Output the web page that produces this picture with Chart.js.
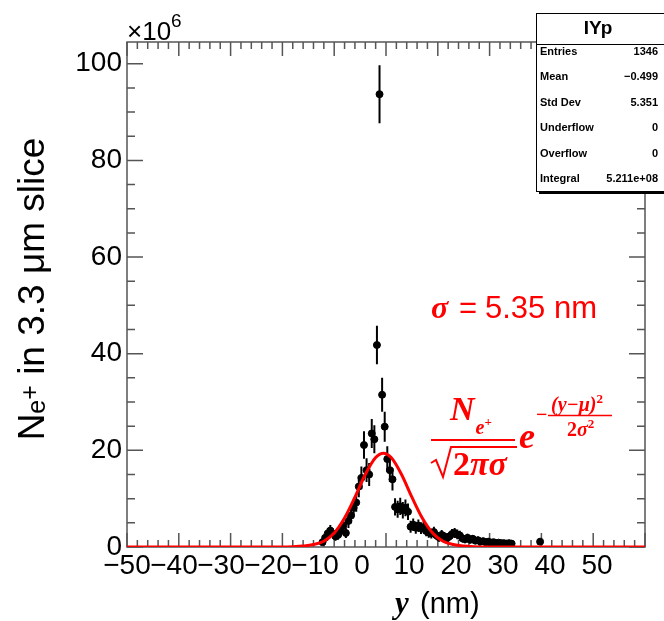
<!DOCTYPE html>
<html>
<head>
<meta charset="utf-8">
<script src="https://cdn.jsdelivr.net/npm/chart.js@4.4.1/dist/chart.umd.min.js"></script>
<style>
  html, body { margin: 0; padding: 0; background: #fff; }
</style>
</head>
<body>
<canvas id="myChart" width="664" height="621"></canvas>
<script>
// histogram bins (nm) and contents (x10^6)
const binCenters = [-12.25, -11.75, -11.25, -10.75, -10.25, -9.75, -9.25, -8.75, -8.25, -7.75,
  -7.25, -6.75, -6.25, -5.75, -5.25, -4.75, -4.25, -3.75, -3.25, -2.75,
  -2.25, -1.75, -1.25, -0.75, -0.25, 0.25, 0.75, 1.25, 1.75, 2.25,
  2.75, 3.25, 3.75, 4.25, 4.75, 5.25, 5.75, 6.25, 6.75, 7.25,
  7.75, 8.25, 8.75, 9.25, 9.75, 10.25, 10.75, 11.25, 11.75, 12.25,
  12.75, 13.25, 13.75, 14.25, 14.75, 15.25, 15.75, 16.25, 16.75, 17.25,
  17.75, 18.25, 18.75, 19.25, 19.75, 20.25, 20.75, 21.25, 21.75, 22.25,
  22.75, 23.25, 23.75, 24.25, 29.75];
const counts = [1.0, 1.9, 2.8, 3.4, 2.8, 2.2, 2.5, 3.4, 4.4, 2.9,
  5.4, 6.5, 8.1, 9.2, 12.5, 14.3, 21.1, 15.9, 15.0, 23.5,
  22.3, 41.8, 93.7, 31.5, 24.9, 18.2, 15.9, 14.0, 8.3, 7.8,
  8.4, 7.6, 8.1, 7.3, 4.2, 4.6, 4.0, 4.4, 3.9, 4.1,
  3.3, 3.0, 2.8, 3.1, 2.4, 2.0, 2.5, 2.2, 1.8, 2.2,
  2.7, 2.9, 2.6, 2.4, 1.8, 1.6, 1.9, 1.5, 1.7, 1.3,
  1.4, 1.1, 1.2, 1.0, 1.1, 0.9, 1.0, 0.8, 0.9, 0.8,
  0.8, 0.7, 0.8, 0.7, 1.1];
const countErrors = [0.6, 0.85, 1.05, 1.15, 1.05, 0.9, 1.0, 1.15, 1.3, 1.05,
  1.45, 1.6, 1.75, 1.9, 2.2, 2.35, 2.85, 2.45, 2.4, 3.0,
  2.9, 4.0, 6.0, 3.5, 3.1, 2.65, 2.45, 2.3, 1.8, 1.75,
  1.8, 1.7, 1.75, 1.7, 1.25, 1.3, 1.25, 1.3, 1.2, 1.25,
  1.1, 1.1, 1.05, 1.1, 0.95, 0.9, 1.0, 0.9, 0.85, 0.9,
  1.0, 1.05, 1.0, 0.95, 0.85, 0.8, 0.85, 0.75, 0.8, 0.7,
  0.75, 0.65, 0.7, 0.6, 0.65, 0.6, 0.6, 0.55, 0.6, 0.55,
  0.55, 0.5, 0.55, 0.5, 0.65];

// gaussian fit curve
const fitX = [-50, -20, -18, -16, -14, -12, -10, -8, -6, -4, -2, -0.5, 1, 3, 5, 7, 9, 11, 13, 15, 17, 19, 50];
const fitY = [0, 0.02, 0.07, 0.2, 0.5, 1.2, 2.9, 6.0, 10.3, 15.0, 18.5, 19.4, 18.5, 15.0, 10.3, 6.0, 2.9, 1.2, 0.5, 0.2, 0.07, 0.02, 0];

const xTickLabels = [-50, -40, -30, -20, -10, 0, 10, 20, 30, 40, 50];
const yTickLabels = [0, 20, 40, 60, 80, 100];

const statsTitle = 'IYp';
const statsRows = [
  ['Entries', '1346'],
  ['Mean', '\u22120.499'],
  ['Std Dev', '5.351'],
  ['Underflow', '0'],
  ['Overflow', '0'],
  ['Integral', '5.211e+08']
];

const sans = '"Liberation Sans", Arial, sans-serif';
const serif = '"Liberation Serif", "Times New Roman", serif';
const red = '#ff0000';

/* frame, inner ticks and error bars */
const rootFrame = {
  id: 'rootFrame',
  beforeDatasetsDraw(chart) {
    const {ctx, chartArea: a, scales: {x, y}} = chart;
    ctx.save();
    ctx.strokeStyle = '#555';
    ctx.lineWidth = 1.5;
    ctx.strokeRect(a.left, a.top, a.right - a.left, a.bottom - a.top);
    ctx.beginPath();
    for (let v = -50; v <= 50; v += 2) {
      const px = x.getPixelForValue(v);
      const len = v % 10 === 0 ? 14 : 7;
      ctx.moveTo(px, a.bottom); ctx.lineTo(px, a.bottom - len);
      ctx.moveTo(px, a.top); ctx.lineTo(px, a.top + len);
    }
    for (let v = 0; v <= 104; v += 5) {
      const py = y.getPixelForValue(v);
      const len = v % 20 === 0 ? 16 : 8;
      ctx.moveTo(a.left, py); ctx.lineTo(a.left + len, py);
      ctx.moveTo(a.right, py); ctx.lineTo(a.right - len, py);
    }
    ctx.stroke();

    // vertical error bars
    ctx.strokeStyle = '#000';
    ctx.lineWidth = 2;
    ctx.beginPath();
    binCenters.forEach((b, i) => {
      const px = x.getPixelForValue(b);
      ctx.moveTo(px, y.getPixelForValue(counts[i] - countErrors[i]));
      ctx.lineTo(px, y.getPixelForValue(counts[i] + countErrors[i]));
    });
    ctx.stroke();
    ctx.restore();
  }
};

// draws a run of text pieces, each with its own font and baseline shift
function drawRun(ctx, x, y, pieces) {
  pieces.forEach(p => {
    ctx.font = p.f;
    ctx.fillText(p.t, x, y + (p.dy || 0));
    x += ctx.measureText(p.t).width + (p.gap || 0);
  });
  return x;
}

/* texts: axis titles, exponent, stats box, formula */
const rootText = {
  id: 'rootText',
  afterDraw(chart) {
    const ctx = chart.ctx;
    ctx.save();
    ctx.fillStyle = '#000';
    ctx.textBaseline = 'alphabetic';

    // y title, rotated
    ctx.save();
    ctx.translate(44, 289);
    ctx.rotate(-Math.PI / 2);
    const pieces = [
      {t: 'N', f: '37px ' + sans},
      {t: 'e', f: '25px ' + sans, dy: 1},
      {t: '+', f: '25px ' + sans, dy: -6},
      {t: ' in 3.3 \u03bcm slice', f: '37px ' + sans}
    ];
    let total = 0;
    pieces.forEach(p => { ctx.font = p.f; total += ctx.measureText(p.t).width; });
    drawRun(ctx, -total / 2, 0, pieces);
    ctx.restore();

    // x title
    ctx.font = 'bold italic 31px ' + serif;
    ctx.fillText('y', 395, 613);
    ctx.font = '29px ' + sans;
    ctx.fillText('(nm)', 420, 613);

    // x10^6
    drawRun(ctx, 127, 40, [
      {t: '\u00d710', f: '26px ' + sans},
      {t: '6', f: '19px ' + sans, dy: -13}
    ]);

    // stats box
    ctx.fillStyle = '#fff';
    ctx.fillRect(536, 13, 140, 178);
    ctx.strokeStyle = '#000';
    ctx.lineWidth = 1;
    ctx.strokeRect(536.5, 13.5, 140, 178);
    ctx.beginPath();
    ctx.moveTo(536, 44.5); ctx.lineTo(664, 44.5);
    ctx.stroke();
    ctx.lineWidth = 2;
    ctx.beginPath();
    ctx.moveTo(539, 193); ctx.lineTo(664, 193);
    ctx.stroke();
    ctx.fillStyle = '#000';
    ctx.textBaseline = 'middle';
    ctx.textAlign = 'center';
    ctx.font = 'bold 19px ' + sans;
    ctx.fillText(statsTitle, 598, 29);
    ctx.font = 'bold 11px ' + sans;
    statsRows.forEach((r, i) => {
      const ry = 52 + i * 25.4;
      ctx.textAlign = 'left';
      ctx.fillText(r[0], 540, ry);
      ctx.textAlign = 'right';
      ctx.fillText(r[1], 658, ry);
    });

    // sigma annotation
    ctx.fillStyle = red;
    ctx.strokeStyle = red;
    ctx.textAlign = 'left';
    ctx.textBaseline = 'alphabetic';
    ctx.font = 'bold italic 32px ' + serif;
    ctx.fillText('\u03c3', 431, 318);
    ctx.font = '31px ' + sans;
    ctx.fillText('=', 459, 318);
    ctx.fillText('5.35 nm', 485, 318);

    // formula: N_e+ / sqrt(2 pi sigma) e^(-(y-mu)^2 / 2 sigma^2)
    drawRun(ctx, 450, 420, [
      {t: 'N', f: 'bold italic 34px ' + serif, gap: 1},
      {t: 'e', f: 'bold italic 20px ' + serif, dy: 14},
      {t: '+', f: 'bold 13px ' + serif, dy: 6}
    ]);
    ctx.lineWidth = 2;
    ctx.beginPath();
    ctx.moveTo(431, 440); ctx.lineTo(515, 440);
    ctx.stroke();
    ctx.beginPath();
    ctx.moveTo(431, 463); ctx.lineTo(436, 460); ctx.lineTo(443, 477);
    ctx.lineTo(451, 447); ctx.lineTo(517, 447);
    ctx.stroke();
    drawRun(ctx, 453, 475, [
      {t: '2', f: 'bold 34px ' + serif},
      {t: '\u03c0\u03c3', f: 'bold italic 34px ' + serif}
    ]);
    ctx.font = 'bold italic 36px ' + serif;
    ctx.fillText('e', 519, 448);
    ctx.font = 'bold 20px ' + serif;
    ctx.fillText('\u2212', 536, 421);
    drawRun(ctx, 551, 411, [
      {t: '(y\u2212\u03bc)', f: 'bold italic 20px ' + serif},
      {t: '2', f: 'bold 13px ' + serif, dy: -8}
    ]);
    ctx.lineWidth = 1.5;
    ctx.beginPath();
    ctx.moveTo(548, 415.5); ctx.lineTo(612, 415.5);
    ctx.stroke();
    drawRun(ctx, 567, 436, [
      {t: '2', f: 'bold 20px ' + serif},
      {t: '\u03c3', f: 'bold italic 20px ' + serif},
      {t: '2', f: 'bold 13px ' + serif, dy: -8}
    ]);
    ctx.restore();
  }
};

const ctx1 = document.getElementById('myChart').getContext('2d');
const myChart = new Chart(ctx1, {
  type: 'scatter',
  data: {
    datasets: [
      {
        label: 'fit',
        type: 'line',
        data: fitX.map((v, i) => ({x: v, y: fitY[i]})),
        borderColor: red,
        borderWidth: 3,
        pointRadius: 0,
        cubicInterpolationMode: 'monotone',
        fill: false,
        order: 0
      },
      {
        label: statsTitle,
        data: binCenters.map((v, i) => ({x: v, y: counts[i]})),
        backgroundColor: '#000',
        borderColor: '#000',
        pointRadius: 3.5,
        order: 1
      }
    ]
  },
  options: {
    responsive: false,
    animation: false,
    layout: {
      padding: {top: 42, right: 19, left: 0, bottom: 0}
    },
    plugins: {
      legend: {display: false},
      tooltip: {enabled: false}
    },
    scales: {
      x: {
        type: 'linear',
        min: -50,
        max: 50,
        display: false
      },
      xl: {
        type: 'linear',
        axis: 'x',
        position: 'bottom',
        min: -50,
        max: 60.2,
        grid: {display: false, drawTicks: false},
        border: {display: false},
        afterBuildTicks: s => { s.ticks = xTickLabels.map(v => ({value: v})); },
        ticks: {
          autoSkip: false,
          maxRotation: 0,
          padding: 2,
          color: '#000',
          font: {family: sans, size: 28},
          callback: v => v < 0 ? '\u2212' + Math.abs(v) : String(v)
        },
        afterFit: s => { s.height = 74; }
      },
      y: {
        type: 'linear',
        min: 0,
        max: 104.5,
        grid: {display: false, drawTicks: false},
        border: {display: false},
        afterBuildTicks: s => { s.ticks = yTickLabels.map(v => ({value: v})); },
        ticks: {
          padding: 5,
          color: '#000',
          font: {family: sans, size: 28},
          callback: v => String(v)
        },
        afterFit: s => { s.width = 127; }
      }
    }
  },
  plugins: [rootFrame, rootText]
});
</script>
</body>
</html>
